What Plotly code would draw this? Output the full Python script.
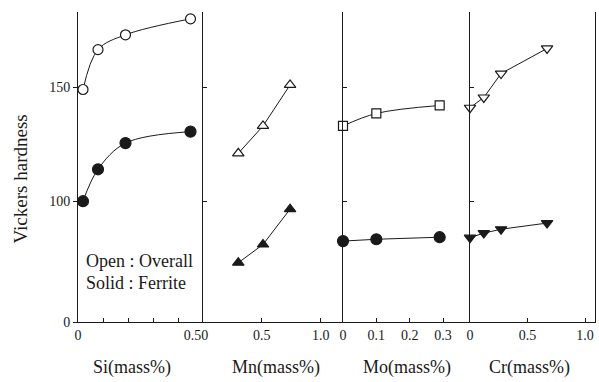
import plotly.graph_objects as go

# ---- data ----
si_x = [0.02, 0.08, 0.19, 0.45]
si_overall = [149, 166.5, 173, 180]
si_ferrite = [100, 114, 125.5, 130.5]

mn_x = [0.30, 0.51, 0.74]
mn_overall = [121, 133, 151]
mn_ferrite = [73, 81, 96.5]

mo_x = [0, 0.1, 0.29]
mo_overall = [133, 138.5, 142]
mo_ferrite = [82.5, 83.3, 84.2]

cr_x = [0, 0.12, 0.27, 0.67]
cr_overall = [141, 145.5, 156, 167]
cr_ferrite = [84, 86, 87.7, 90.4]

y_tickvals = [47, 100, 150]
y_ticktext = ["0", "100", "150"]

x_titles = ["Si(mass%)", "Mn(mass%)", "Mo(mass%)", "Cr(mass%)"]

FONT = "Liberation Serif, Times New Roman, serif"
INK = "#1a1a1a"

W, H = 599, 382
ML, MR, MT, MB = 78, 4, 12, 60
PW = W - ML - MR
# panel boundaries in px (left edges) and right edge
edges_px = [78, 203, 343, 470, 595]
domains = [[(edges_px[i] - ML) / PW, (edges_px[i + 1] - ML) / PW] for i in range(4)]
domains[-1][1] = 1.0

fig = go.Figure()

def add(k, x, y, symbol, fill, shape, size=10):
    sx = "x" if k == 1 else f"x{k}"
    sy = "y" if k == 1 else f"y{k}"
    fig.add_trace(go.Scatter(
        x=x, y=y, mode="lines+markers", xaxis=sx, yaxis=sy, cliponaxis=False,
        line=dict(color=INK, width=1, shape=shape, smoothing=1.0),
        marker=dict(symbol=symbol, size=size, color=fill,
                    line=dict(color=INK, width=1.2)),
        showlegend=False))

add(1, si_x, si_overall, "circle", "white", "spline")
add(1, si_x, si_ferrite, "circle", INK, "spline", 11)
add(2, mn_x, mn_overall, "triangle-up", "white", "linear")
add(2, mn_x, mn_ferrite, "triangle-up", INK, "linear")
add(3, mo_x, mo_overall, "square", "white", "spline", 9)
add(3, mo_x, mo_ferrite, "circle", INK, "linear", 11)
add(4, cr_x, cr_overall, "triangle-down", "white", "linear")
add(4, cr_x, cr_ferrite, "triangle-down", INK, "linear")

x_ranges = [[0, 0.5], [0, 1.19], [0, 0.381], [0, 1.087]]
x_tickvals = [[0, 0.1, 0.2, 0.3, 0.4, 0.5], [0.5, 1.0], [0, 0.1, 0.2, 0.3], [0, 0.5, 1.0]]
x_ticktext = [["0", "", "", "", "", "0.50\u00a0\u00a0\u00a0\u00a0"], ["0.5", "1.0"],
              ["0", "0.1", "0.2", "0.3"], ["0", "0.5", "1.0"]]

layout = {}
for i in range(4):
    k = i + 1
    xa = "xaxis" if k == 1 else f"xaxis{k}"
    ya = "yaxis" if k == 1 else f"yaxis{k}"
    layout[xa] = dict(domain=domains[i], anchor="y" if k == 1 else f"y{k}",
                      range=x_ranges[i], tickvals=x_tickvals[i],
                      ticktext=x_ticktext[i], ticks="inside", ticklen=4,
                      tickcolor=INK, showline=True, linecolor=INK, linewidth=1,
                      showgrid=False, zeroline=False, automargin=False,
                      tickfont=dict(family=FONT, size=14, color=INK))
    layout[ya] = dict(domain=[0, 1], anchor="x" if k == 1 else f"x{k}",
                      range=[47, 183], tickvals=y_tickvals,
                      ticktext=y_ticktext, showline=True, linecolor=INK, linewidth=1,
                      showgrid=False, zeroline=False, tickcolor=INK,
                      ticks="outside" if i == 0 else "inside", ticklen=4,
                      showticklabels=(i == 0), mirror=(i == 3), automargin=False,
                      tickfont=dict(family=FONT, size=14, color=INK))
fig.update_layout(**layout)

fig.add_annotation(text="Vickers hardness", x=-0.112, y=0.46, xref="paper", yref="paper",
                   showarrow=False, textangle=-90, xanchor="center", yanchor="middle",
                   font=dict(family=FONT, size=19, color=INK))

title_x = [0.104, 0.383, 0.636, 0.874]
for t, xp in zip(x_titles, title_x):
    fig.add_annotation(text=t, x=xp, y=-0.148, xref="paper", yref="paper",
                       showarrow=False, xanchor="center", yanchor="middle",
                       font=dict(family=FONT, size=18, color=INK))

fig.add_annotation(text="Open : Overall", x=0.012, y=0.197, xref="paper", yref="paper",
                   showarrow=False, xanchor="left", yanchor="middle",
                   font=dict(family=FONT, size=18, color=INK))
fig.add_annotation(text="Solid : Ferrite", x=0.012, y=0.126, xref="paper", yref="paper",
                   showarrow=False, xanchor="left", yanchor="middle",
                   font=dict(family=FONT, size=18, color=INK))

fig.update_layout(width=W, height=H, margin=dict(l=ML, r=MR, t=MT, b=MB),
                  plot_bgcolor="white", paper_bgcolor="white",
                  font=dict(family=FONT, color=INK))

fig.write_html("out.html")
